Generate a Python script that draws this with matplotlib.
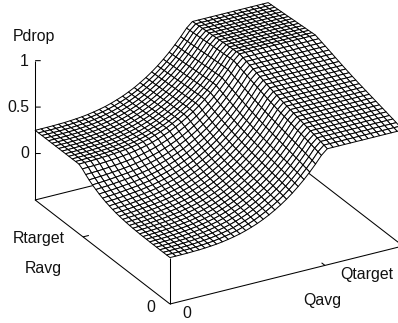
import numpy as np
import matplotlib
matplotlib.use("Agg")
import matplotlib.pyplot as plt
from mpl_toolkits.mplot3d import proj3d

W_PX, H_PX = 398, 323

# Drop contribution read along the queue edge (41 grid lines)
q_drop = [0, 0, .0003, .001, .003, .005, .009, .014, .020, .029, .040, .053, .068, .087,
          .109, .133, .162, .194, .231, .271, .316, .366, .421, .481, .547, .618, .695,
          .75, .75, .75, .75, .75, .75, .75, .75, .75, .75, .75, .75, .75, .75]
# Rate contribution read along the low-queue edge (41 grid lines)
r_drop_low = [0, 0, 0, 0, .0001, .0003, .0006, .001, .002, .003, .005, .007, .010, .014,
              .019, .025, .032, .041, .052, .064, .079, .096, .116, .138, .164, .193, .226,
              .25, .25, .25, .25, .25, .25, .25, .25, .25, .25, .25, .25, .25, .25]
# Rate contribution read along the high-queue edge (41 grid lines)
r_drop_high = [0, .011, .022, .033, .043, .053, .063, .073, .083, .093, .103, .113, .123,
               .133, .144, .155, .167, .179, .191, .204, .217, .230, .243, .256, .268, .281,
               .293, .29, .287, .284, .281, .278, .275, .272, .268, .265, .262, .259, .256,
               .253, .25]
# Share of the low-queue profile on each queue grid line
low_share = [1, .96, .93, .89, .85, .81, .78, .74, .70, .66, .63, .59, .55, .51, .48, .44,
             .40, .36, .33, .29, .25, .21, .18, .14, .10, .06, .03,
             0, 0, 0, 0, 0, 0, 0, 0, 0, 0, 0, 0, 0, 0]
q_axis = np.linspace(0, 1, len(q_drop))
r_axis = np.linspace(0, 1, len(r_drop_low))
z_ticks = [0, 0.5, 1]
z_labels = ["0", "0.5", "1"]
q_target = 0.665
r_target = 0.645
z_floor = -0.5

fig = plt.figure(figsize=(W_PX / 100, H_PX / 100), dpi=100)
ax = fig.add_subplot(projection="3d", proj_type="ortho", computed_zorder=False)
ax.view_init(elev=26, azim=-119.6)
ax.set_xlim(0, 1, view_margin=0)
ax.set_ylim(0, 1, view_margin=0)
ax.set_zlim(z_floor, 1, view_margin=0)
ax.set_box_aspect((268, 273, 155))
ax.set_axis_off()
ax.patch.set_alpha(0)

Q, R = np.meshgrid(q_axis, r_axis)
share = np.array(low_share)
Z = (np.array(q_drop)
     + np.outer(r_drop_low, share)
     + np.outer(r_drop_high, 1 - share))

axis_style = dict(color="black", lw=0.75, zorder=1, solid_capstyle="butt")
# base rectangle
ax.plot([0, 1, 1, 0, 0], [0, 0, 1, 1, 0], [z_floor] * 5, **axis_style)
# vertical axis and corner post
ax.plot([0, 0], [1, 1], [z_floor, 1], **axis_style)
ax.plot([0, 0], [0, 0], [z_floor, Z[0, 0]], **axis_style)
# vertical ticks
for t in z_ticks:
    ax.plot([0, 0.018], [1, 0.99], [t, t], **axis_style)
# target ticks
ax.plot([q_target, q_target], [0, 0.025], [z_floor, z_floor], **axis_style)
ax.plot([0, 0.025], [r_target, r_target], [z_floor, z_floor], **axis_style)

ax.plot_surface(Q, R, Z, rstride=1, cstride=1, color="white", edgecolor="black",
                linewidth=0.7, shade=False, zorder=2, antialiased=True)

# place the projected cube on the page
M = ax.get_proj()
px, py, _ = proj3d.proj_transform(np.array([0.0, 1.0]), np.array([0.0, 0.0]),
                                  np.array([z_floor, z_floor]), M)
W = 600.0
ax.set_position([0, 0, W / W_PX, W / H_PX])
ax.apply_aspect()
pts = ax.transData.transform(np.column_stack([px, py]))
W *= 233.0 / (pts[1, 0] - pts[0, 0])
ax.set_position([0, 0, W / W_PX, W / H_PX])
ax.apply_aspect()
pts = ax.transData.transform(np.column_stack([px, py]))
ax.set_position([(170 - pts[0, 0]) / W_PX, ((H_PX - 304) - pts[0, 1]) / H_PX,
                 W / W_PX, W / H_PX])

font = dict(family="Liberation Sans", size=11.4, color="#111111")
def label(x, y, s, ha="left"):
    fig.text(x / W_PX, 1 - y / H_PX, s, ha=ha, va="center", **font)

label(13, 37, "Pdrop")
for t, s in zip(z_ticks, z_labels):
    label(29, 154 - 93 * t, s, ha="right")
label(13, 239, "Rtarget")
label(25, 268, "Ravg")
label(151, 307, "0", ha="center")
label(187, 313, "0", ha="center")
label(340, 274, "Qtarget")
label(303, 300, "Qavg")

fig.savefig("out.png", dpi=100)
